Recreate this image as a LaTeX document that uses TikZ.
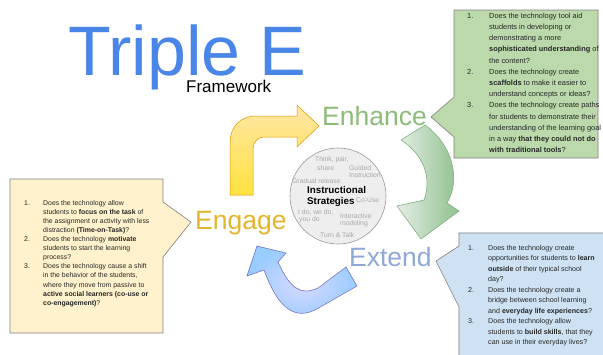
\documentclass[tikz,border=0pt]{standalone}
\usepackage{fontspec}
\setmainfont{Liberation Sans}
\usepackage{array}
\definecolor{titleblue}{HTML}{4A86E8}
\definecolor{gboxc}{HTML}{BCD9AC}
\definecolor{yboxc}{HTML}{FFF2CC}
\definecolor{bboxc}{HTML}{CFE2F3}
\definecolor{boxline}{HTML}{808080}
\definecolor{enhc}{HTML}{8DBC78}
\definecolor{engc}{HTML}{E3B52C}
\definecolor{extc}{HTML}{8FA8D8}
\definecolor{circfill}{HTML}{EEEEEE}
\definecolor{circline}{HTML}{9A9A9A}
\definecolor{stratgray}{HTML}{A8A8A8}
\begin{document}
\begin{tikzpicture}[x=1pt,y=-1pt,
  callout/.style={draw=boxline, line width=0.6pt},
  qtext/.style={anchor=north west, inner sep=0pt, text=black!85},
  bigword/.style={anchor=base west, inner sep=0pt, font=\fontsize{26.5}{30}\selectfont},
  strat/.style={anchor=west, inner sep=0pt, text=stratgray, font=\fontsize{6.8}{8}\selectfont},
  stratb/.style={anchor=west, inner sep=0pt, text=black, font=\fontsize{9.8}{11}\selectfont\bfseries},
  yarrow/.style={top color=yellow!45!orange!35!white, bottom color=yellow!70!orange!75, draw=orange!60!yellow!85!black, line width=0.5pt},
  garrow/.style={left color=green!30!black!10!white, right color=green!45!black!45!white, draw=green!40!black!55, line width=0.5pt},
  barrow/.style={inner color=blue!15!white, outer color=blue!50!cyan!40!white, draw=blue!55!black!60, line width=0.5pt}]
\useasboundingbox (0,0) rectangle (603,354);
\clip (0,0) rectangle (603,354);

% Title
\node[anchor=base west, inner sep=0pt, text depth=0pt, text=titleblue, font=\fontsize{70}{80}\selectfont] (title) at (68,75) {Triple E};
\node[anchor=base west, inner sep=0pt, text=black, font=\fontsize{17}{20}\selectfont] (framework) at (186,92.5) {Framework};

% Callout boxes
\path[callout, fill=gboxc] (454,10) -- (598,10) -- (598,158) -- (454,158) -- (454,137) -- (431,117) -- (454,97) -- cycle;
\path[callout, fill=yboxc] (10,179) -- (163,179) -- (163,202) -- (191,222) -- (163,257) -- (163,333) -- (10,333) -- cycle;
\path[callout, fill=bboxc] (459,233) -- (612,233) -- (612,362) -- (459,362) -- (459,307) -- (436,261) -- (459,246) -- cycle;

% Green box text
\node[qtext, font=\fontsize{7.4}{11.2}\selectfont] (gtext) at (467,10.2) {%
\begin{tabular}{@{}p{22pt}@{}l@{}}
1. & Does the technology tool aid\\
 & students in developing or\\
 & demonstrating a more\\
 & \textbf{sophisticated understanding} of\\
 & the content?\\
2. & Does the technology create\\
 & \textbf{scaffolds} to make it easier to\\
 & understand concepts or ideas?\\
3. & Does the technology create paths\\
 & for students to demonstrate their\\
 & understanding of the learning goal\\
 & in a way \textbf{that they could not do}\\
 & \textbf{with traditional tools}?
\end{tabular}};

% Yellow box text
\node[qtext, font=\fontsize{6.9}{9.1}\selectfont] (ytext) at (24,198.6) {%
\begin{tabular}{@{}p{19pt}@{}l@{}}
1. & Does the technology allow\\
 & students to \textbf{focus on the task} of\\
 & the assignment or activity with less\\
 & distraction \textbf{(Time-on-Task)}?\\
2. & Does the technology \textbf{motivate}\\
 & students to start the learning\\
 & process?\\
3. & Does the technology cause a shift\\
 & in the behavior of the students,\\
 & where they move from passive to\\
 & \textbf{active social learners (co-use or}\\
 & \textbf{co-engagement)}?
\end{tabular}};

% Blue box text
\node[qtext, font=\fontsize{7.1}{10.5}\selectfont] (btext) at (468,242.6) {%
\begin{tabular}{@{}p{20pt}@{}l@{}}
1. & Does the technology create\\
 & opportunities for students to \textbf{learn}\\
 & \textbf{outside} of their typical school\\
 & day?\\
2. & Does the technology create a\\
 & bridge between school learning\\
 & and \textbf{everyday life experiences}?\\
3. & Does the technology allow\\
 & students to \textbf{build skills}, that they\\
 & can use in their everyday lives?
\end{tabular}};

% Arrows
\path[yarrow] (230,195) -- (230,143) .. controls (230,127) and (240,116) .. (256,116)
  -- (297,116) -- (297,105) -- (319,126) -- (297,147) -- (297,137) -- (264,137)
  .. controls (258,137) and (253,142) .. (253,149) -- (253,195) -- cycle;
\path[garrow] (401,140) -- (425,125) .. controls (453,145) and (461,180) .. (447,203)
  -- (459,211) -- (421,239) -- (397,206) -- (424,200)
  .. controls (432,178) and (424,155) .. cycle;
\path[barrow] (257,246) -- (286,253) -- (278,262) .. controls (290,288) and (300,296) .. (318,288)
  -- (346,267) -- (357,286) -- (315,310) .. controls (290,322) and (275,300) .. (264,270)
  -- (247,276) -- cycle;

% Center circle
\node[circle, draw=circline, fill=circfill, line width=0.6pt, minimum size=96pt, inner sep=0pt] (circ) at (338,196) {};
\node[strat] (s1) at (315,160) {Think, pair,};
\node[strat] (s2) at (317,168) {share};
\node[strat] (s3) at (349,168) {Guided};
\node[strat] (s4) at (349,175.5) {Instruction};
\node[strat] (s5) at (292,181) {Gradual release};
\node[stratb] (s6) at (307,190) {Instructional};
\node[stratb] (s7) at (307,202) {Strategies};
\node[strat] (s8) at (356,200) {Co-Use};
\node[strat] (s9) at (298,212) {I do, we do,};
\node[strat] (s10) at (299,220) {you do};
\node[strat] (s11) at (340,216) {Interactive};
\node[strat] (s12) at (340,224) {modeling};
\node[strat] (s13) at (320,235) {Turn \& Talk};

% Big words
\node[bigword, text=enhc] (enhance) at (322,125) {Enhance};
\node[bigword, text=engc] (engage) at (195,229) {Engage};
\node[bigword, text=extc] (extend) at (349,266) {Extend};
\end{tikzpicture}
\end{document}
